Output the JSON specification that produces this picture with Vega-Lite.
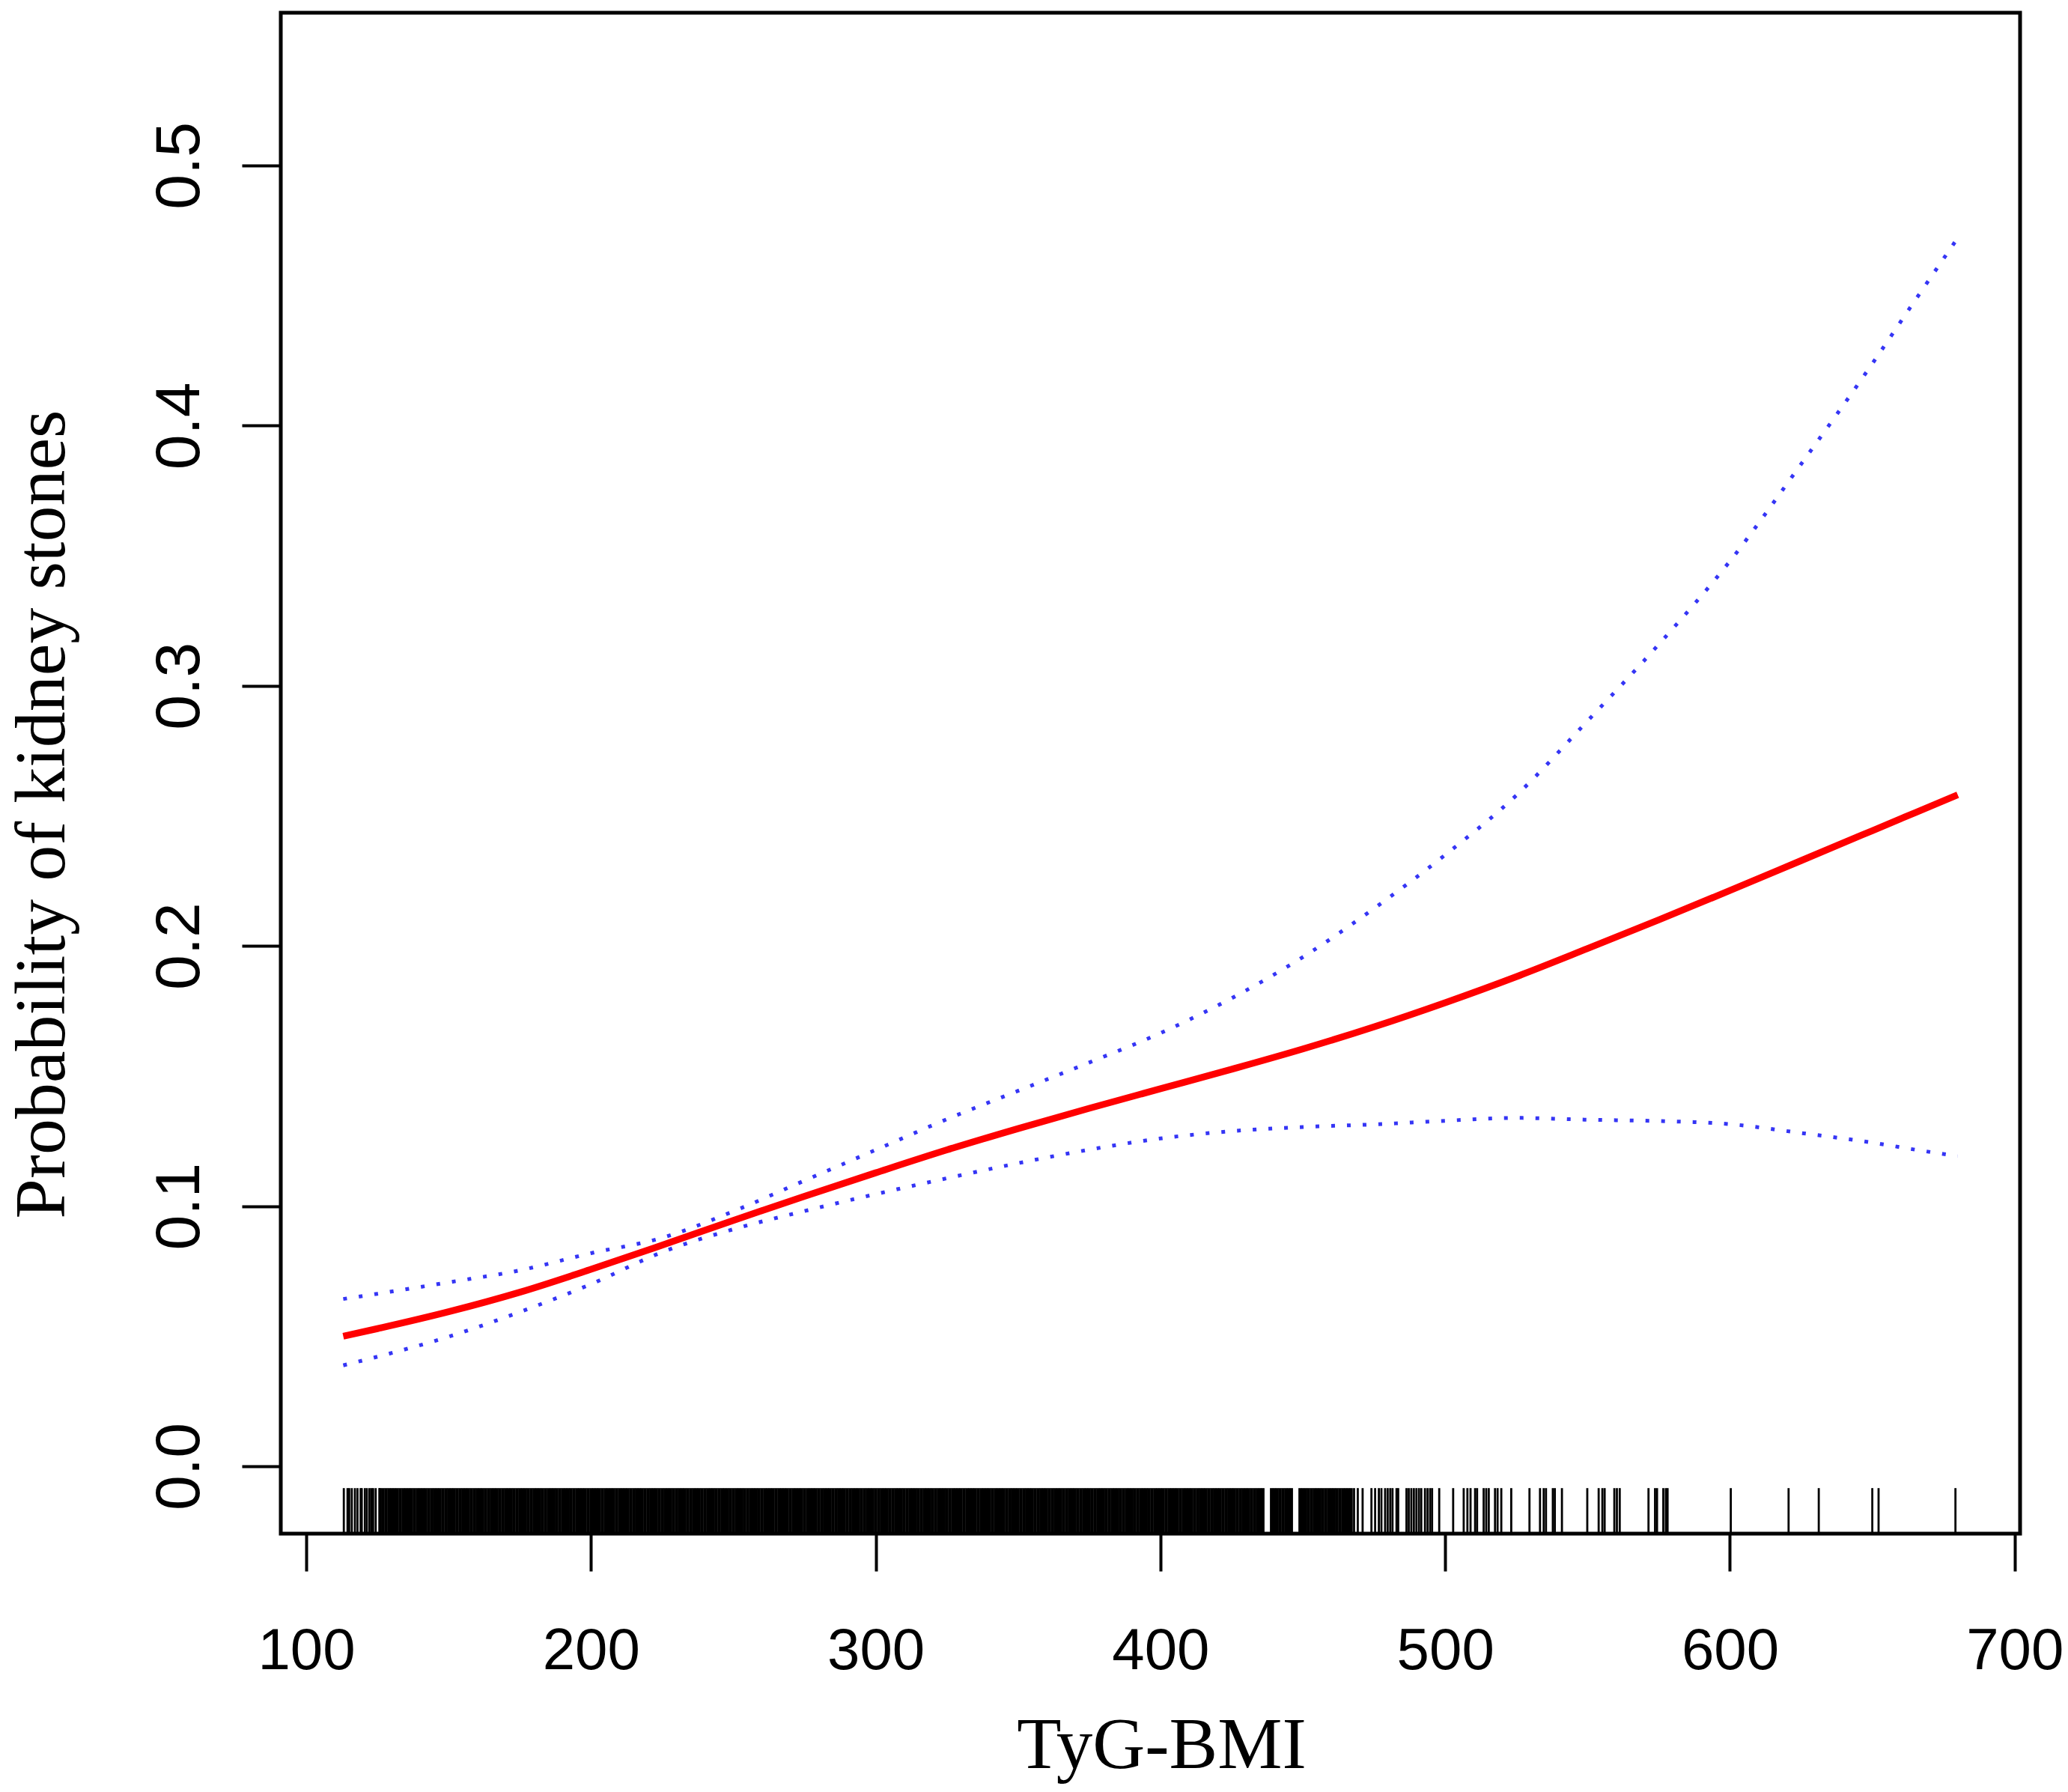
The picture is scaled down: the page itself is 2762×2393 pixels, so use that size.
{
  "$schema": "https://vega.github.io/schema/vega-lite/v6.json",
  "width": 2323,
  "height": 2031,
  "autosize": {"type": "none"},
  "padding": {"left": 375, "top": 17, "right": 64, "bottom": 345},
  "background": "white",
  "datasets": {
    "fit": [
      {"x": 113, "fit": 0.0500, "lower": 0.0388, "upper": 0.0643},
      {"x": 125, "fit": 0.0529, "lower": 0.0421, "upper": 0.0663},
      {"x": 150, "fit": 0.0594, "lower": 0.0498, "upper": 0.0707},
      {"x": 175, "fit": 0.0669, "lower": 0.0593, "upper": 0.0753},
      {"x": 200, "fit": 0.0757, "lower": 0.0700, "upper": 0.0819},
      {"x": 225, "fit": 0.0850, "lower": 0.0823, "upper": 0.0878},
      {"x": 250, "fit": 0.0945, "lower": 0.0911, "upper": 0.0980},
      {"x": 275, "fit": 0.1038, "lower": 0.0981, "upper": 0.1098},
      {"x": 300, "fit": 0.1128, "lower": 0.1046, "upper": 0.1216},
      {"x": 325, "fit": 0.1216, "lower": 0.1107, "upper": 0.1334},
      {"x": 350, "fit": 0.1298, "lower": 0.1165, "upper": 0.1443},
      {"x": 375, "fit": 0.1376, "lower": 0.1217, "upper": 0.1552},
      {"x": 400, "fit": 0.1451, "lower": 0.1260, "upper": 0.1665},
      {"x": 425, "fit": 0.1526, "lower": 0.1288, "upper": 0.1799},
      {"x": 450, "fit": 0.1604, "lower": 0.1304, "upper": 0.1957},
      {"x": 475, "fit": 0.1689, "lower": 0.1314, "upper": 0.2144},
      {"x": 500, "fit": 0.1782, "lower": 0.1328, "upper": 0.2350},
      {"x": 525, "fit": 0.1882, "lower": 0.1339, "upper": 0.2579},
      {"x": 550, "fit": 0.1990, "lower": 0.1332, "upper": 0.2865},
      {"x": 575, "fit": 0.2100, "lower": 0.1327, "upper": 0.3159},
      {"x": 600, "fit": 0.2213, "lower": 0.1315, "upper": 0.3479},
      {"x": 625, "fit": 0.2328, "lower": 0.1281, "upper": 0.3852},
      {"x": 650, "fit": 0.2443, "lower": 0.1244, "upper": 0.4238},
      {"x": 665, "fit": 0.2512, "lower": 0.1217, "upper": 0.4481},
      {"x": 680, "fit": 0.2581, "lower": 0.1192, "upper": 0.4721}
    ],
    "rugDense": [
      {"x":126},{"x":127},{"x":128},{"x":129},{"x":130},{"x":131},{"x":132},{"x":133},{"x":134},{"x":135},
      {"x":136},{"x":137},{"x":138},{"x":139},{"x":140},{"x":141},{"x":142},{"x":143},{"x":144},{"x":145},
      {"x":146},{"x":147},{"x":148},{"x":149},{"x":150},{"x":151},{"x":152},{"x":153},{"x":154},{"x":155},
      {"x":156},{"x":157},{"x":158},{"x":159},{"x":160},{"x":161},{"x":162},{"x":163},{"x":164},{"x":165},
      {"x":166},{"x":167},{"x":168},{"x":169},{"x":170},{"x":171},{"x":172},{"x":173},{"x":174},{"x":175},
      {"x":176},{"x":177},{"x":178},{"x":179},{"x":180},{"x":181},{"x":182},{"x":183},{"x":184},{"x":185},
      {"x":186},{"x":187},{"x":188},{"x":189},{"x":190},{"x":191},{"x":192},{"x":193},{"x":194},{"x":195},
      {"x":196},{"x":197},{"x":198},{"x":199},{"x":200},{"x":201},{"x":202},{"x":203},{"x":204},{"x":205},
      {"x":206},{"x":207},{"x":208},{"x":209},{"x":210},{"x":211},{"x":212},{"x":213},{"x":214},{"x":215},
      {"x":216},{"x":217},{"x":218},{"x":219},{"x":220},{"x":221},{"x":222},{"x":223},{"x":224},{"x":225},
      {"x":226},{"x":227},{"x":228},{"x":229},{"x":230},{"x":231},{"x":232},{"x":233},{"x":234},{"x":235},
      {"x":236},{"x":237},{"x":238},{"x":239},{"x":240},{"x":241},{"x":242},{"x":243},{"x":244},{"x":245},
      {"x":246},{"x":247},{"x":248},{"x":249},{"x":250},{"x":251},{"x":252},{"x":253},{"x":254},{"x":255},
      {"x":256},{"x":257},{"x":258},{"x":259},{"x":260},{"x":261},{"x":262},{"x":263},{"x":264},{"x":265},
      {"x":266},{"x":267},{"x":268},{"x":269},{"x":270},{"x":271},{"x":272},{"x":273},{"x":274},{"x":275},
      {"x":276},{"x":277},{"x":278},{"x":279},{"x":280},{"x":281},{"x":282},{"x":283},{"x":284},{"x":285},
      {"x":286},{"x":287},{"x":288},{"x":289},{"x":290},{"x":291},{"x":292},{"x":293},{"x":294},{"x":295},
      {"x":296},{"x":297},{"x":298},{"x":299},{"x":300},{"x":301},{"x":302},{"x":303},{"x":304},{"x":305},
      {"x":306},{"x":307},{"x":308},{"x":309},{"x":310},{"x":311},{"x":312},{"x":313},{"x":314},{"x":315},
      {"x":316},{"x":317},{"x":318},{"x":319},{"x":320},{"x":321},{"x":322},{"x":323},{"x":324},{"x":325},
      {"x":326},{"x":327},{"x":328},{"x":329},{"x":330},{"x":331},{"x":332},{"x":333},{"x":334},{"x":335},
      {"x":336},{"x":337},{"x":338},{"x":339},{"x":340},{"x":341},{"x":342},{"x":343},{"x":344},{"x":345},
      {"x":346},{"x":347},{"x":348},{"x":349},{"x":350},{"x":351},{"x":352},{"x":353},{"x":354},{"x":355},
      {"x":356},{"x":357},{"x":358},{"x":359},{"x":360},{"x":361},{"x":362},{"x":363},{"x":364},{"x":365},
      {"x":366},{"x":367},{"x":368},{"x":369},{"x":370},{"x":371},{"x":372},{"x":373},{"x":374},{"x":375},
      {"x":376},{"x":377},{"x":378},{"x":379},{"x":380},{"x":381},{"x":382},{"x":383},{"x":384},{"x":385},
      {"x":386},{"x":387},{"x":388},{"x":389},{"x":390},{"x":391},{"x":392},{"x":393},{"x":394},{"x":395},
      {"x":396},{"x":397},{"x":398},{"x":399},{"x":400},{"x":401},{"x":402},{"x":403},{"x":404},{"x":405},
      {"x":406},{"x":407},{"x":408},{"x":409},{"x":410},{"x":411},{"x":412},{"x":413},{"x":414},{"x":415},
      {"x":416},{"x":417},{"x":418},{"x":419},{"x":420},{"x":421},{"x":422},{"x":423},{"x":424},{"x":425},
      {"x":426},{"x":427},{"x":428},{"x":429},{"x":430},{"x":431},{"x":432},{"x":433},{"x":434},{"x":435},
      {"x":436},{"x":439},{"x":440},{"x":441},{"x":442},{"x":443},{"x":444},{"x":445},{"x":446},
      {"x":449},{"x":450},{"x":451},{"x":452},{"x":453},{"x":454},{"x":455},{"x":456},{"x":457},{"x":458},
      {"x":459},{"x":460},{"x":461},{"x":462},{"x":463},{"x":464},{"x":465},{"x":466},{"x":467}
    ],
    "rugSparse": [
      {"x":113.2},{"x":114.5},{"x":115.1},{"x":116.0},{"x":117.1},{"x":118.0},{"x":119.1},{"x":119.5},
      {"x":120.6},{"x":121.3},{"x":122.2},{"x":122.9},{"x":123.5},{"x":124.4},{"x":125.7},
      {"x":468.0},{"x":469.3},{"x":471.0},{"x":474.1},{"x":475.4},{"x":476.7},{"x":477.6},{"x":478.9},
      {"x":479.8},{"x":480.7},{"x":481.5},{"x":482.9},{"x":483.5},{"x":486.4},{"x":487.2},{"x":488.1},
      {"x":489.0},{"x":489.9},{"x":490.8},{"x":491.6},{"x":492.9},{"x":493.8},{"x":494.7},{"x":495.4},
      {"x":497.9},{"x":502.8},{"x":506.5},{"x":507.8},{"x":508.9},{"x":510.5},{"x":511.2},{"x":513.5},
      {"x":514.4},{"x":515.3},{"x":517.5},{"x":518.4},{"x":519.7},{"x":523.2},{"x":529.6},{"x":533.3},
      {"x":534.6},{"x":535.4},{"x":537.8},{"x":538.5},{"x":541.0},{"x":549.9},{"x":553.9},{"x":555.2},
      {"x":556.0},{"x":559.4},{"x":560.3},{"x":561.3},{"x":571.4},{"x":573.7},{"x":574.4},{"x":576.6},
      {"x":577.5},{"x":578.1},{"x":600.3},{"x":620.6},{"x":631.2},{"x":650.0},{"x":652.2},{"x":679.2}
    ]
  },
  "encoding": {
    "x": {
      "field": "x",
      "type": "quantitative",
      "scale": {"domain": [91.06, 701.9], "nice": false, "zero": false},
      "axis": {
        "values": [100, 200, 300, 400, 500, 600, 700],
        "format": "d",
        "title": "TyG-BMI",
        "tickSize": 50,
        "tickWidth": 4,
        "tickColor": "black",
        "labelFont": "Liberation Sans",
        "labelFontSize": 78,
        "labelColor": "black",
        "labelBaseline": "alphabetic",
        "labelPadding": 130,
        "labelFlush": false,
        "labelOverlap": false,
        "titleFont": "Liberation Serif",
        "titleFontSize": 97,
        "titleFontWeight": "normal",
        "titleColor": "black",
        "titleBaseline": "alphabetic",
        "titleAlign": "center",
        "titleX": 1176,
        "titleY": 312
      }
    }
  },
  "layer": [
    {
      "data": {"name": "rugDense"},
      "mark": {"type": "rule", "color": "black", "strokeWidth": 4.2},
      "encoding": {
        "y": {
          "datum": -0.0259,
          "scale": {"domain": [-0.0259, 0.5587], "nice": false, "zero": false},
          "axis": {"values": [0, 0.1, 0.2, 0.3, 0.4, 0.5], "format": ".1f", "title": "Probability of kidney stones"}
        },
        "y2": {"datum": -0.0084}
      }
    },
    {
      "data": {"name": "rugSparse"},
      "mark": {"type": "rule", "color": "black", "strokeWidth": 2.8},
      "encoding": {
        "y": {
          "datum": -0.0259,
          "axis": {"values": [0, 0.1, 0.2, 0.3, 0.4, 0.5], "format": ".1f", "title": "Probability of kidney stones"}
        },
        "y2": {"datum": -0.0084}
      }
    },
    {
      "data": {"name": "fit"},
      "mark": {"type": "line", "color": "#3535f5", "strokeWidth": 5, "strokeDash": [5, 16], "interpolate": "monotone", "strokeCap": "butt"},
      "encoding": {
        "y": {
          "field": "upper",
          "type": "quantitative",
          "axis": {"values": [0, 0.1, 0.2, 0.3, 0.4, 0.5], "format": ".1f", "title": "Probability of kidney stones"}
        }
      }
    },
    {
      "data": {"name": "fit"},
      "mark": {"type": "line", "color": "#3535f5", "strokeWidth": 5, "strokeDash": [5, 16], "interpolate": "monotone", "strokeCap": "butt"},
      "encoding": {
        "y": {
          "field": "lower",
          "type": "quantitative",
          "axis": {"values": [0, 0.1, 0.2, 0.3, 0.4, 0.5], "format": ".1f", "title": "Probability of kidney stones"}
        }
      }
    },
    {
      "data": {"name": "fit"},
      "mark": {"type": "line", "color": "#ff0000", "strokeWidth": 9, "interpolate": "monotone", "strokeCap": "butt"},
      "encoding": {
        "y": {
          "field": "fit",
          "type": "quantitative",
          "axis": {"values": [0, 0.1, 0.2, 0.3, 0.4, 0.5], "format": ".1f", "title": "Probability of kidney stones"}
        }
      }
    }
  ],
  "config": {
    "view": {"stroke": "black", "strokeWidth": 5},
    "axis": {"grid": false, "domain": false},
    "axisY": {
      "tickSize": 52,
      "tickWidth": 4,
      "tickColor": "black",
      "labelFont": "Liberation Sans",
      "labelFontSize": 84,
      "labelColor": "black",
      "labelAngle": 270,
      "labelAlign": "center",
      "labelBaseline": "alphabetic",
      "labelPadding": 58,
      "labelFlush": false,
      "labelOverlap": false,
      "titleFont": "Liberation Serif",
      "titleFontSize": 96,
      "titleFontWeight": "normal",
      "titleColor": "black",
      "titleAngle": 270,
      "titleBaseline": "alphabetic",
      "titleAlign": "center",
      "titleX": -290,
      "titleY": 1070
    }
  }
}
